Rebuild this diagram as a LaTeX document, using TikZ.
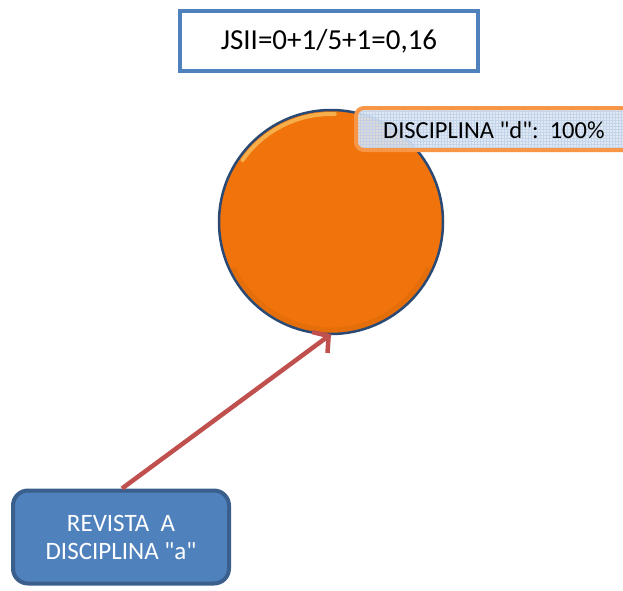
\documentclass[tikz,border=0pt]{standalone}
\usepackage{fontspec}
% no TeX mapping, so a typed " stays a straight quote
\setmainfont{Carlito}[Ligatures=TeXOff]
\usetikzlibrary{arrows.meta}
\definecolor{boxblue}{HTML}{4F81BD}
\definecolor{boxedge}{HTML}{3A5F8D}
\definecolor{ballorange}{HTML}{F0730B}
\definecolor{balledge}{HTML}{2A4A75}
\definecolor{tagorange}{HTML}{F79646}
\definecolor{tagfill}{HTML}{DCE6F2}
\definecolor{taggrid}{HTML}{B9CDE8}
\definecolor{arrowred}{HTML}{C0504D}
\tikzset{
  formulabox/.style={draw=boxblue, line width=4pt, fill=white, minimum width=298pt, minimum height=60pt, inner sep=0pt, font=\fontsize{29}{32}\selectfont},
  tagtext/.style={anchor=west, inner sep=0pt, font=\fontsize{24.5}{28}\selectfont},
  sourcebox/.style={draw=boxedge, line width=4pt, fill=boxblue, rounded corners=15pt, minimum width=216pt, minimum height=93pt, align=center, text=white, inner sep=0pt, font=\fontsize{25}{28}\selectfont},
  link/.style={draw=arrowred, line width=4.5pt, -{Straight Barb[length=11pt, width=26pt, line width=4.5pt]}}
}
\begin{document}
\begin{tikzpicture}[x=1pt, y=-1pt]
  \useasboundingbox (0,0) rectangle (623,590);

  % formula at the top
  \node[formulabox] (formula) at (329,41) {JSII=0+1/5+1=0,16};

  % the discipline disc with a soft bevel
  \coordinate (c) at (331,222);
  \fill[ballorange] (c) circle (112pt);
  \draw[orange!70!black, line width=5pt, opacity=0.18] (c) ++(205:108pt) arc (205:335:108pt);
  \draw[yellow!40!white, line width=4pt, opacity=0.45, line cap=round] (c) ++(145:108pt) arc (145:88:108pt);
  \draw[balledge, line width=2.5pt] (c) circle (112pt);
  \node[circle, minimum size=224pt, inner sep=0pt] (disc) at (c) {};

  % tag over the upper right of the disc
  \begin{scope}
    \clip (0,0) rectangle (623,590);
    \path[fill=tagfill, fill opacity=0.9, rounded corners=8pt] (356,108) rectangle (660,150);
    \begin{scope}
      \clip[rounded corners=8pt] (356,108) rectangle (660,150);
      \draw[taggrid, line width=0.35pt, opacity=0.7] (356,108) grid[step=3pt] (660,150);
    \end{scope}
    \draw[tagorange, line width=4pt, rounded corners=8pt] (356,108) rectangle (660,150);
  \end{scope}
  \node[tagtext] (tag) at (383,130) {DISCIPLINA "d":\ \ 100\%};

  % journal box and its link to the disc
  \node[sourcebox] (source) at (121,537) {REVISTA\ \ A\\DISCIPLINA "a"};
  \draw[link] (source.north) ++(1pt,0) coordinate (s0) (s0) -- (disc.south);
\end{tikzpicture}
\end{document}
